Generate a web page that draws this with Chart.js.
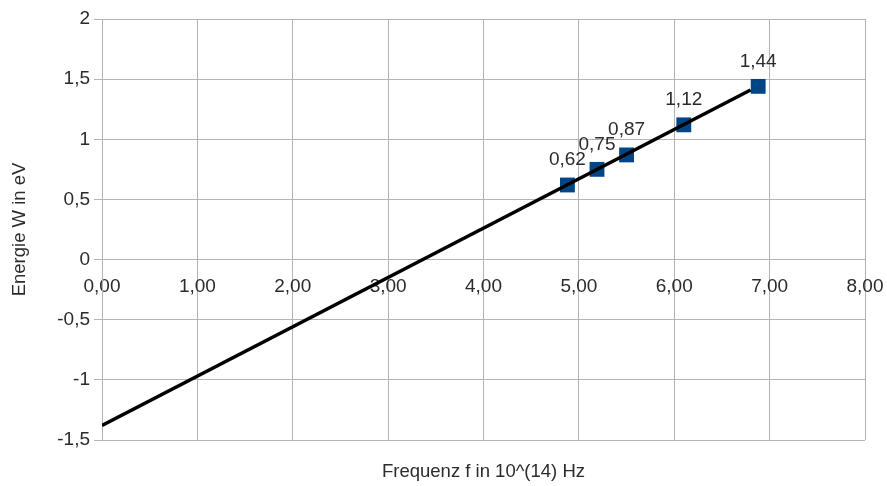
<!DOCTYPE html>
<html>
<head>
<meta charset="utf-8">
<script src="https://cdn.jsdelivr.net/npm/chart.js@4.4.0/dist/chart.umd.min.js"></script>
<style>
  body { margin: 0; background: #fff; }
</style>
</head>
<body>
<canvas id="myChart" width="887" height="486"></canvas>
<script>
// measured points (frequency in 10^14 Hz, energy in eV)
var freq = [4.88, 5.19, 5.50, 6.10, 6.88];
var energy = [0.62, 0.75, 0.87, 1.12, 1.44];
var pointLabels = ["0,62", "0,75", "0,87", "1,12", "1,44"];

// linear trend line end points
var trendX = [0, 6.80];
var trendY = [-1.38, 1.41];

var xTickValues = [0, 1, 2, 3, 4, 5, 6, 7, 8];
var xTickLabels = ["0,00", "1,00", "2,00", "3,00", "4,00", "5,00", "6,00", "7,00", "8,00"];
var yTickValues = [-1.5, -1, -0.5, 0, 0.5, 1, 1.5, 2];
var yTickLabels = ["-1,5", "-1", "-0,5", "0", "0,5", "1", "1,5", "2"];

var textColor = "#2b2b2b";
var gridColor = "#b3b3b3";
var fontFamily = "'Liberation Sans', Arial, sans-serif";
var tickFont = { family: fontFamily, size: 19 };
var titleFont = { family: fontFamily, size: 18.5 };

function toPoints(xs, ys) {
  var pts = [];
  for (var i = 0; i < xs.length; i++) pts.push({ x: xs[i], y: ys[i] });
  return pts;
}

// draws the value labels above the squares
var valueLabels = {
  id: "valueLabels",
  afterDatasetsDraw: function (chart) {
    var meta = chart.getDatasetMeta(1);
    var ctx = chart.ctx;
    ctx.save();
    ctx.font = tickFont.size + "px " + fontFamily;
    ctx.fillStyle = textColor;
    ctx.textAlign = "center";
    ctx.textBaseline = "middle";
    meta.data.forEach(function (el, i) {
      ctx.fillText(pointLabels[i], el.x, el.y - 25);
    });
    ctx.restore();
  }
};

var ctx = document.getElementById("myChart").getContext("2d");
var myChart = new Chart(ctx, {
  type: "scatter",
  data: {
    datasets: [{
        label: "Trend",
        data: toPoints(trendX, trendY),
        showLine: true,
        borderColor: "#000000",
        borderWidth: 3.5,
        pointRadius: 0,
        fill: false
      }, {
        label: "Energie",
        data: toPoints(freq, energy),
        showLine: false,
        pointStyle: "rect",
        pointRadius: 10.5,
        pointBackgroundColor: "#004586",
        pointBorderColor: "#004586",
        pointBorderWidth: 0
      }]
  },
  options: {
    responsive: false,
    animation: false,
    layout: { padding: { top: 19, right: 22, left: 0, bottom: 0 } },
    plugins: {
      legend: { display: false },
      tooltip: { enabled: false }
    },
    scales: {
      x: {
        type: "linear",
        position: { y: 0 },
        min: 0,
        max: 8,
        afterBuildTicks: function (s) {
          s.ticks = xTickValues.map(function (v) { return { value: v }; });
        },
        ticks: {
          color: textColor,
          font: tickFont,
          padding: 16,
          maxRotation: 0,
          callback: function (v, i) { return xTickLabels[i]; }
        },
        grid: { color: gridColor, drawTicks: false },
        border: { color: gridColor },
        afterFit: function (s) {
          s.height = 0;
          s.paddingLeft = 0;
          s.paddingRight = 0;
        }
      },
      x2: {
        type: "linear",
        position: "bottom",
        min: 0,
        max: 8,
        ticks: { display: false },
        grid: { display: false, drawTicks: false },
        border: { display: false },
        title: {
          display: true,
          text: "Frequenz f in 10^(14) Hz",
          color: textColor,
          font: titleFont,
          padding: { top: 0, bottom: 3 }
        },
        afterFit: function (s) { s.height = 46; }
      },
      y: {
        type: "linear",
        min: -1.5,
        max: 2,
        afterBuildTicks: function (s) {
          s.ticks = yTickValues.map(function (v) { return { value: v }; });
        },
        ticks: {
          color: textColor,
          font: tickFont,
          padding: 4,
          callback: function (v, i) { return yTickLabels[i]; }
        },
        grid: { color: gridColor, tickLength: 8 },
        border: { color: gridColor },
        title: {
          display: true,
          text: "Energie W in eV",
          color: textColor,
          font: titleFont,
          padding: { top: 9, bottom: 0 }
        },
        afterFit: function (s) { s.width = 102; }
      }
    }
  },
  plugins: [valueLabels]
});
</script>
</body>
</html>
